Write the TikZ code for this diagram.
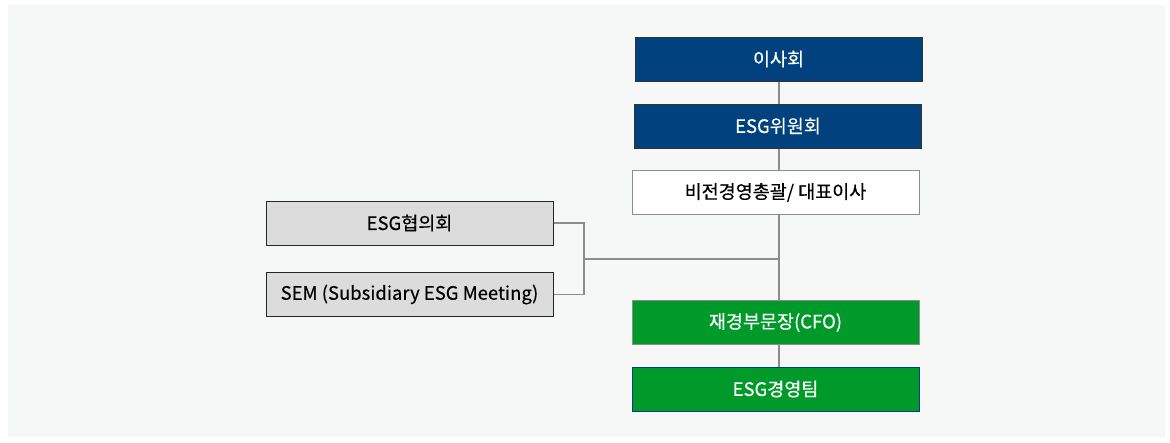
\documentclass[tikz,border=0pt]{standalone}
\usepackage{fontspec}
\setmainfont{Noto Sans CJK KR}[FakeBold=0.4]
\definecolor{navy}{HTML}{00417E}
\definecolor{grn}{HTML}{009A2A}
\definecolor{lgray}{HTML}{DCDCDC}
\definecolor{bg}{HTML}{F6F7F7}
\definecolor{linec}{HTML}{8C8C8C}
\begin{document}
\begin{tikzpicture}[x=1pt,y=-1pt,
  base/.style={minimum width=287pt,minimum height=44pt,inner sep=0pt,font=\fontsize{18.5}{20}\selectfont,line width=1pt},
  navybox/.style={base,fill=navy,draw=black!80,text=white},
  whitebox/.style={base,fill=white,draw=linec,text=black},
  graybox/.style={base,fill=lgray,draw=black!85,text=black},
  greenbox/.style={base,fill=grn,draw=linec,text=white},
  greenbox2/.style={base,fill=grn,draw=navy,text=white},
  conn/.style={draw=linec,line width=1.2pt}]
\useasboundingbox (0,0) rectangle (1170,442);
\fill[white] (0,0) rectangle (1170,442);
\fill[bg] (8,5) rectangle (1165,437);
\node[navybox] (board) at (778.5,59) {이사회};
\node[navybox] (esgc) at (778,126) {ESG위원회};
\node[whitebox] (ceo) at (775.5,192.5) {비전경영총괄/ 대표이사};
\node[graybox] (council) at (409.5,223) {ESG협의회};
\node[graybox] (sem) at (409.5,294.5) {SEM (Subsidiary ESG Meeting)};
\node[greenbox] (cfo) at (775.5,322.5) {재경부문장(CFO)};
\node[greenbox2] (team) at (775.5,389) {ESG경영팀};
\coordinate (br) at (584,259);
\coordinate (jn) at (779,259);
\draw[conn] (779,0 |- board.south) -- (779,0 |- esgc.north);
\draw[conn] (779,0 |- esgc.south) -- (779,0 |- ceo.north);
\draw[conn] (779,0 |- ceo.south) -- (779,0 |- cfo.north);
\draw[conn] (779,0 |- cfo.south) -- (779,0 |- team.north);
\draw[conn] (council.east) -| (br) |- (sem.east);
\draw[conn] (br) -- (jn);
\end{tikzpicture}
\end{document}
